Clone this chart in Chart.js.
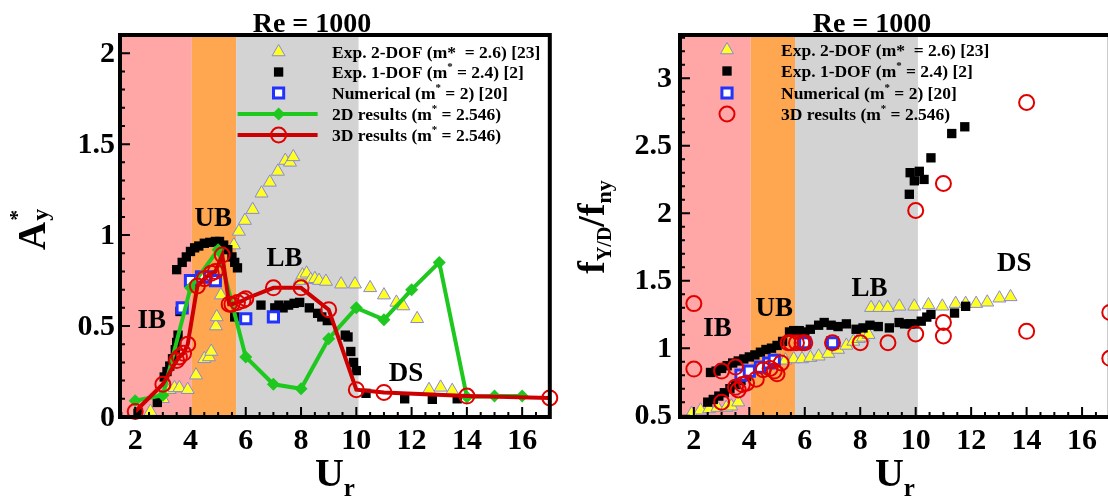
<!DOCTYPE html>
<html>
<head>
<meta charset="utf-8">
<script src="https://cdn.jsdelivr.net/npm/chart.js@4.4.0/dist/chart.umd.min.js"></script>
<style>
html, body { margin: 0; padding: 0; background: #fff; overflow: hidden; }
#wrap { position: relative; width: 1108px; height: 500px; overflow: hidden; }
canvas { position: absolute; top: 0; }
#ampChart { left: 0; }
#freqChart { left: 560px; }
</style>
</head>
<body>
<div id="wrap">
  <canvas id="ampChart" width="560" height="500"></canvas>
  <canvas id="freqChart" width="560" height="500"></canvas>
</div>
<script>
// ---------- tick labels ----------
var xTickVals = [2, 4, 6, 8, 10, 12, 14, 16];
var ampTickVals = [0, 0.5, 1, 1.5, 2];
var freqTickVals = [0.5, 1, 1.5, 2, 2.5, 3];

// ---------- series labels ----------
var seriesLabels = [
  'Exp. 2-DOF (m*  = 2.6) [23]',
  'Exp. 1-DOF (m^* = 2.4) [2]',
  'Numerical (m^* = 2) [20]',
  '2D results (m^* = 2.546)',
  '3D results (m^* = 2.546)'
];
var regimeNames = ['IB', 'UB', 'LB', 'DS'];
var regimeBounds = [4.05, 5.65, 10.08];

// ---------- left panel: amplitude A*y ----------
var ampExp2Ur  = [2.55, 3.0, 3.25, 3.42, 3.6, 3.9, 4.2, 4.5, 4.67, 4.75, 4.92, 4.95, 5.1, 5.57, 5.75, 5.97, 6.25, 6.57, 6.87, 7.16,
                  7.43, 7.6, 7.72, 7.95, 8.05, 8.2, 8.35, 8.5, 8.65, 8.9, 9.45, 9.95, 10.5, 11.0, 11.45, 11.7, 12.2, 12.63, 13.05, 13.47];
var ampExp2Val = [0.03, 0.10, 0.15, 0.16, 0.16, 0.15, 0.23, 0.32, 0.33, 0.36, 0.50, 0.55, 0.67, 0.945, 1.02, 1.08, 1.14, 1.23, 1.29, 1.35,
                  1.41, 1.40, 1.43, 0.75, 0.78, 0.79, 0.755, 0.76, 0.75, 0.745, 0.73, 0.73, 0.71, 0.67, 0.63, 0.61, 0.54, 0.15, 0.163, 0.145];

var ampExp1Ur  = [2.1, 2.8, 3.05, 3.15, 3.25, 3.35, 3.45, 3.5, 3.55, 3.62, 3.5, 3.7, 3.85, 4.0, 4.15, 4.3, 4.5, 4.7, 4.9, 5.05,
                  5.2, 5.35, 5.5, 5.6, 5.7, 5.6, 6.55, 7.05, 7.2, 7.35, 7.55, 7.75, 7.95, 8.3, 8.6, 8.75, 8.95, 9.6, 9.7, 9.8,
                  9.9, 10.0, 10.35, 11.75, 12.75, 13.65];
var ampExp1Val = [0.02, 0.08, 0.22, 0.25, 0.28, 0.32, 0.37, 0.41, 0.45, 0.58, 0.81, 0.85, 0.88, 0.91, 0.93, 0.94, 0.955, 0.96, 0.965, 0.965,
                  0.945, 0.92, 0.88, 0.85, 0.82, 0.55, 0.615, 0.60, 0.615, 0.60, 0.615, 0.625, 0.63, 0.60, 0.57, 0.55, 0.53, 0.45, 0.44, 0.36,
                  0.30, 0.255, 0.13, 0.10, 0.097, 0.10];

var numUr   = [3.7, 4.0, 4.4, 4.7, 4.9, 6.0, 7.0];
var numAmp  = [0.60, 0.75, 0.77, 0.77, 0.75, 0.54, 0.55];
var numFreq = [0.80, 0.83, 0.86, 0.89, 0.91, 1.04, 1.04];

var res2dUr  = [2, 3, 4, 5, 6, 7, 8, 9, 10, 11, 12, 13, 14, 15, 16];
var res2dAmp = [0.09, 0.12, 0.71, 0.92, 0.33, 0.18, 0.155, 0.43, 0.60, 0.535, 0.70, 0.85, 0.11, 0.115, 0.115];

var res3dUr  = [2, 3, 3.5, 3.6, 3.75, 3.9, 4.25, 4.5, 4.75, 4.9, 5.15, 5.4, 5.5, 5.7, 5.9, 6, 7, 8, 9, 10, 11, 14, 17];
var res3dAmp = [0.03, 0.18, 0.31, 0.33, 0.35, 0.40, 0.72, 0.76, 0.79, 0.80, 0.89, 0.62, 0.62, 0.63, 0.64, 0.65, 0.71, 0.71, 0.59, 0.15, 0.135, 0.115, 0.105];

// ---------- right panel: frequency ratio ----------
var freqExp2Ur  = [1.92, 2.24, 2.55, 2.85, 3.17, 3.35, 3.6, 4.95, 5.3, 5.6, 5.9, 6.2, 6.5, 6.85, 7.2, 7.5, 7.75, 7.95, 8.1, 8.3,
                   8.39, 8.69, 8.99, 9.41, 9.95, 10.46, 10.96, 11.44, 11.8, 12.18, 12.58, 13.02, 13.42];
var freqExp2Val = [0.515, 0.54, 0.55, 0.56, 0.56, 0.57, 0.60, 0.91, 0.91, 0.92, 0.92, 0.93, 0.94, 0.96, 0.99, 1.02, 1.05, 1.07, 1.08, 1.10,
                   1.30, 1.30, 1.30, 1.31, 1.31, 1.32, 1.31, 1.33, 1.33, 1.33, 1.34, 1.37, 1.38];

var freqExp1Ur  = [2.5, 2.7, 2.9, 3.1, 3.3, 3.5, 3.7, 3.9,
                   2.6, 2.8, 3.0, 3.2, 3.4, 3.6, 3.8, 4.0, 4.2, 4.4, 4.6, 4.8, 5.0, 5.2, 5.45, 5.6, 5.8, 6.0, 6.2, 6.5, 6.7, 6.95,
                   7.2, 7.5, 7.85, 8.1, 8.35, 8.65, 9.05, 9.4, 9.6, 9.8, 9.95, 10.2, 10.4, 10.55, 11.4, 11.8,
                   9.77, 9.8, 9.95, 10.13, 10.3, 10.55, 11.3, 11.77];
var freqExp1Val = [0.60, 0.62, 0.645, 0.67, 0.70, 0.73, 0.76, 0.79,
                   0.82, 0.83, 0.85, 0.87, 0.89, 0.905, 0.92, 0.935, 0.95, 0.97, 0.99, 1.0, 1.02, 1.05, 1.12, 1.13, 1.13, 1.12, 1.14, 1.17, 1.19, 1.17,
                   1.16, 1.18, 1.14, 1.15, 1.17, 1.16, 1.15, 1.19, 1.18, 1.18, 1.18, 1.20, 1.23, 1.25, 1.26, 1.31,
                   2.14, 2.30, 2.24, 2.31, 2.25, 2.41, 2.59, 2.64];

var freq3dUr  = [2, 2, 3, 3, 3.5, 3.5, 3.6, 3.75, 3.9, 4.25, 4.5, 4.75, 4.9, 5.0, 5.15, 5.4, 5.5, 5.7, 5.9, 6, 7, 8, 9,
                 10, 10, 11, 11, 11, 14, 14, 17, 17];
var freq3dVal = [1.33, 0.845, 0.83, 0.60, 0.86, 0.71, 0.69, 0.73, 0.74, 0.77, 0.84, 0.85, 0.83, 0.81, 0.89, 1.04, 1.04, 1.04, 1.04, 1.04, 1.04, 1.04, 1.04,
                 1.105, 2.02, 1.19, 1.09, 2.22, 1.125, 2.82, 1.265, 0.925];

// ---------- helpers ----------
var FONT = '"Liberation Serif", "Times New Roman", Times, serif';

function pts(xs, ys) {
  return xs.map(function (x, i) { return { x: x, y: ys[i] }; });
}

function setFont(ctx, size) {
  ctx.font = 'bold ' + size + 'px ' + FONT;
}

// parts: [[text, size, dy], ...]
function drawRuns(ctx, parts, x, y, align) {
  var total = 0;
  parts.forEach(function (p) { setFont(ctx, p[1]); total += ctx.measureText(p[0]).width; });
  var cx = align === 'center' ? x - total / 2 : (align === 'right' ? x - total : x);
  ctx.textAlign = 'left';
  ctx.textBaseline = 'alphabetic';
  parts.forEach(function (p) {
    setFont(ctx, p[1]);
    ctx.fillText(p[0], cx, y + (p[2] || 0));
    cx += ctx.measureText(p[0]).width;
  });
  return total;
}

// "m^*" -> raised star
function labelRuns(label, size) {
  var bits = label.split('^');
  var parts = [[bits[0], size, 0]];
  for (var i = 1; i < bits.length; i++) {
    parts.push([bits[i].charAt(0), size * 0.62, -size * 0.45]);
    parts.push([bits[i].slice(1), size, 0]);
  }
  return parts;
}

function drawMarker(ctx, ds, x, y) {
  var r = ds.pointRadius;
  var bw = ds.pointBorderWidth != null ? ds.pointBorderWidth : ds.borderWidth;
  ctx.save();
  ctx.fillStyle = ds.pointBackgroundColor || ds.backgroundColor;
  ctx.strokeStyle = ds.pointBorderColor || ds.borderColor;
  ctx.lineWidth = bw;
  ctx.beginPath();
  if (ds.pointStyle === 'triangle') {
    ctx.moveTo(x, y - r);
    ctx.lineTo(x + r * 0.866, y + r * 0.5);
    ctx.lineTo(x - r * 0.866, y + r * 0.5);
    ctx.closePath();
  } else if (ds.pointStyle === 'rect') {
    var s = r * Math.SQRT1_2;
    ctx.rect(x - s, y - s, 2 * s, 2 * s);
  } else if (ds.pointStyle === 'rectRot') {
    ctx.moveTo(x, y - r); ctx.lineTo(x + r, y); ctx.lineTo(x, y + r); ctx.lineTo(x - r, y);
    ctx.closePath();
  } else {
    ctx.arc(x, y, r, 0, Math.PI * 2);
  }
  ctx.fill();
  if (bw > 0) ctx.stroke();
  ctx.restore();
}

var bandColors = ['rgb(255,166,166)', 'rgb(255,166,80)', 'rgb(211,211,211)'];

var decor = {
  id: 'decor',
  beforeDatasetsDraw: function (chart) {
    var ctx = chart.ctx, a = chart.chartArea, xs = chart.scales.x;
    var edges = [xs.min].concat(regimeBounds);
    ctx.save();
    for (var i = 0; i < 3; i++) {
      var x0 = xs.getPixelForValue(edges[i]), x1 = xs.getPixelForValue(edges[i + 1]);
      ctx.fillStyle = bandColors[i];
      ctx.fillRect(x0, a.top, x1 - x0, a.bottom - a.top);
    }
    ctx.restore();
  },
  afterDatasetsDraw: function (chart, args, o) {
    var ctx = chart.ctx, xs = chart.scales.x, ys = chart.scales.y;
    ctx.save();
    ctx.fillStyle = '#000';
    setFont(ctx, 27);
    ctx.textAlign = 'center';
    ctx.textBaseline = 'middle';
    o.regimePos.forEach(function (p, i) {
      ctx.fillText(regimeNames[i], xs.getPixelForValue(p[0]), ys.getPixelForValue(p[1]));
    });
    ctx.restore();
  },
  afterDraw: function (chart, args, o) {
    var ctx = chart.ctx, a = chart.chartArea, xs = chart.scales.x, ys = chart.scales.y;
    var k, px, py;
    ctx.save();
    ctx.strokeStyle = '#000';
    ctx.fillStyle = '#000';

    // inward ticks
    ctx.lineWidth = 2;
    ctx.beginPath();
    for (k = Math.ceil(xs.min * 2); k <= Math.floor(xs.max * 2); k++) {
      px = xs.getPixelForValue(k / 2);
      ctx.moveTo(px, a.bottom);
      ctx.lineTo(px, a.bottom - (k % 4 === 0 ? 10 : 5));
    }
    for (k = Math.ceil(ys.min * 10 - 1e-6); k <= Math.floor(ys.max * 10 + 1e-6); k++) {
      py = ys.getPixelForValue(k / 10);
      ctx.moveTo(a.left, py);
      ctx.lineTo(a.left + (k % 5 === 0 ? 10 : 5), py);
    }
    ctx.stroke();

    // frame
    ctx.lineWidth = 4;
    ctx.strokeRect(a.left, a.top, a.right - a.left, a.bottom - a.top);

    // tick labels
    setFont(ctx, 30);
    ctx.textAlign = 'center';
    ctx.textBaseline = 'alphabetic';
    xs.ticks.forEach(function (t) {
      ctx.fillText(String(t.value), xs.getPixelForValue(t.value), 449);
    });
    ctx.textAlign = 'right';
    ctx.textBaseline = 'middle';
    ys.ticks.forEach(function (t) {
      ctx.fillText(String(t.value), a.left - o.yLabelGap, ys.getPixelForValue(t.value) + 1);
    });

    // title
    drawRuns(ctx, [['Re = 1000', 28, 0]], a.left + 192, 32, 'center');

    // x title
    drawRuns(ctx, [['U', 40, 0], ['r', 25, 10]], (a.left + a.right) / 2, 486, 'center');

    // y title (rotated)
    ctx.save();
    ctx.translate(o.yTitle.x, o.yTitle.y);
    ctx.rotate(-Math.PI / 2);
    if (o.yTitle.kind === 'amp') {
      setFont(ctx, 39);
      ctx.textAlign = 'left';
      ctx.textBaseline = 'alphabetic';
      ctx.fillText('A', 0, 0);
      var wA = ctx.measureText('A').width;
      setFont(ctx, 22);
      ctx.fillText('*', wA + 1, -21);
      setFont(ctx, 24);
      ctx.fillText('y', wA + 1, 3);
    } else {
      drawRuns(ctx, [['f', 38, 0], ['Y/D', 20, 7], ['/', 38, 0], ['f', 38, 0], ['ny', 22, 7]], 0, 0, 'center');
    }
    ctx.restore();

    // legend
    var lg = o.legend;
    lg.items.forEach(function (idx, row) {
      var ds = chart.data.datasets[idx];
      var ly = lg.rows[row];
      var mx = a.left + lg.markerDx;
      if (ds.showLine) {
        ctx.save();
        ctx.strokeStyle = ds.borderColor;
        ctx.lineWidth = ds.borderWidth;
        ctx.beginPath();
        ctx.moveTo(mx - 41, ly);
        ctx.lineTo(mx + 39, ly);
        ctx.stroke();
        ctx.restore();
      }
      drawMarker(ctx, ds, mx, ly);
      ctx.fillStyle = '#000';
      drawRuns(ctx, labelRuns(ds.label, 17.5), a.left + lg.textDx, ly + 6, 'left');
    });
    ctx.restore();
  }
};

// ---------- dataset styles ----------
function exp2Set(data) {
  return { label: seriesLabels[0], data: data, order: 5, clip: false, showLine: false,
    pointStyle: 'triangle', pointRadius: 7.5, backgroundColor: '#ffff22', borderColor: '#8888d8', borderWidth: 1 };
}
function exp1Set(data) {
  return { label: seriesLabels[1], data: data, order: 4, clip: false, showLine: false,
    pointStyle: 'rect', pointRadius: 6.6, backgroundColor: '#000', borderColor: '#000', borderWidth: 0 };
}
function numSet(data) {
  return { label: seriesLabels[2], data: data, order: 3, clip: false, showLine: false,
    pointStyle: 'rect', pointRadius: 7.2, backgroundColor: '#ffffff', borderColor: '#2233ff', borderWidth: 3 };
}
function res2dSet(data) {
  return { label: seriesLabels[3], data: data, order: 2, clip: false, showLine: true, tension: 0,
    borderColor: '#1ec81e', borderWidth: 4, pointStyle: 'rectRot', pointRadius: 6.5,
    pointBackgroundColor: '#1ec81e', pointBorderColor: '#1ec81e', pointBorderWidth: 0 };
}
function res3dSet(data, withLine) {
  return { label: seriesLabels[4], data: data, order: 1, clip: false, showLine: withLine, tension: 0,
    borderColor: '#cc0000', borderWidth: 4, pointStyle: 'circle', pointRadius: 7.5,
    pointBackgroundColor: 'rgba(0,0,0,0)', pointBorderColor: '#e00000', pointBorderWidth: 2,
    backgroundColor: 'rgba(0,0,0,0)' };
}

function makeChart(id, datasets, xRange, yRange, yTicks, padRight, deco) {
  return new Chart(document.getElementById(id), {
    type: 'scatter',
    data: { datasets: datasets },
    plugins: [decor],
    options: {
      responsive: false,
      animation: false,
      devicePixelRatio: 1,
      layout: { padding: { top: 35, right: padRight, left: 0, bottom: 0 } },
      plugins: { legend: { display: false }, tooltip: { enabled: false }, decor: deco },
      scales: {
        x: {
          type: 'linear', min: xRange[0], max: xRange[1],
          afterBuildTicks: function (s) { s.ticks = xTickVals.map(function (v) { return { value: v }; }); },
          afterFit: function (s) { s.height = 83; },
          grid: { display: false, drawTicks: false }, border: { display: false },
          ticks: { display: false }
        },
        y: {
          type: 'linear', min: yRange[0], max: yRange[1],
          afterBuildTicks: function (s) { s.ticks = yTicks.map(function (v) { return { value: v }; }); },
          afterFit: function (s) { s.width = 120; },
          grid: { display: false, drawTicks: false }, border: { display: false },
          ticks: { display: false }
        }
      }
    }
  });
}

makeChart('ampChart', [
  exp2Set(pts(ampExp2Ur, ampExp2Val)),
  exp1Set(pts(ampExp1Ur, ampExp1Val)),
  numSet(pts(numUr, numAmp)),
  res2dSet(pts(res2dUr, res2dAmp)),
  res3dSet(pts(res3dUr, res3dAmp), true)
], [1.45, 17.0], [0, 2.1], ampTickVals, 7, {
  yLabelGap: 5,
  yTitle: { kind: 'amp', x: 45, y: 250 },
  regimePos: [[2.6, 0.53], [4.82, 1.09], [7.4, 0.87], [11.8, 0.235]],
  legend: { items: [0, 1, 2, 3, 4], rows: [52, 72, 93, 114, 135], markerDx: 158.6, textDx: 212 }
});

makeChart('freqChart', [
  exp2Set(pts(freqExp2Ur, freqExp2Val)),
  exp1Set(pts(freqExp1Ur, freqExp1Val)),
  numSet(pts(numUr, numFreq)),
  res3dSet(pts(freq3dUr, freq3dVal), false)
], [1.5, 17.0], [0.49, 3.32], freqTickVals, 8, {
  yLabelGap: 8,
  yTitle: { kind: 'freq', x: 44, y: 227 },
  regimePos: [[2.85, 1.14], [4.9, 1.29], [8.33, 1.44], [13.55, 1.62]],
  legend: { items: [0, 1, 2, 3], rows: [50, 71, 93, 114], markerDx: 47, textDx: 101 }
});
</script>
</body>
</html>
